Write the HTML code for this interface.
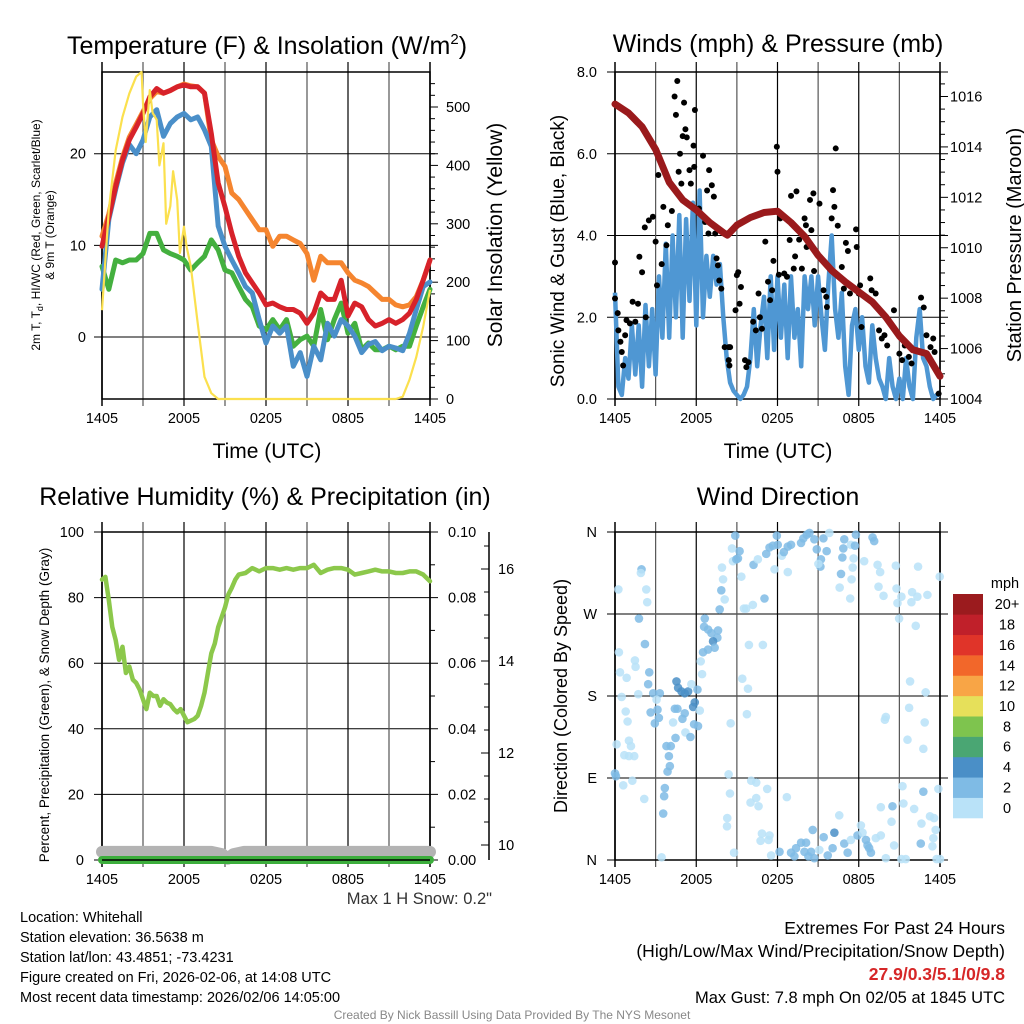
<!DOCTYPE html>
<html><head><meta charset="utf-8"><style>
html,body{margin:0;padding:0;background:#fff;}
svg{display:block;font-family:"Liberation Sans",Arial,sans-serif;}
</style></head><body>
<svg id="chart" width="1024" height="1024" viewBox="0 0 1024 1024" xmlns="http://www.w3.org/2000/svg">
<rect x="0" y="0" width="1024" height="1024" fill="#fff"/>
<g id="p1"></g>
<g id="p2"></g>
<g id="p3"></g>
<g id="p4"></g>
<g font-size="25" text-anchor="middle" fill="#000">
<text x="267" y="54">Temperature (F) &amp; Insolation (W/m<tspan font-size="15" dy="-10">2</tspan><tspan dy="10">)</tspan></text>
<text x="778" y="52">Winds (mph) &amp; Pressure (mb)</text>
<text x="265" y="505">Relative Humidity (%) &amp; Precipitation (in)</text>
<text x="778" y="505">Wind Direction</text>
</g>
<g fill="#000">
<text x="267" y="458" font-size="21" text-anchor="middle">Time (UTC)</text>
<text x="778" y="458" font-size="21" text-anchor="middle">Time (UTC)</text>
<text font-size="12" text-anchor="middle" transform="translate(40,235) rotate(-90)">2m T, T<tspan font-size="9" dy="3">d</tspan><tspan dy="-3">, HI/WC (Red, Green, Scarlet/Blue)</tspan></text>
<text font-size="12" text-anchor="middle" transform="translate(54,235) rotate(-90)">&amp; 9m T (Orange)</text>
<text font-size="21" text-anchor="middle" transform="translate(502,235) rotate(-90)">Solar Insolation (Yellow)</text>
<text font-size="19" text-anchor="middle" transform="translate(564,251) rotate(-90)">Sonic Wind &amp; Gust (Blue, Black)</text>
<text font-size="20" text-anchor="middle" transform="translate(1021,245) rotate(-90)">Station Pressure (Maroon)</text>
<text font-size="13.5" text-anchor="middle" transform="translate(49,705) rotate(-90)">Percent, Precipitation (Green), &amp; Snow Depth (Gray)</text>
<text font-size="18" text-anchor="middle" transform="translate(567,696) rotate(-90)">Direction (Colored By Speed)</text>
</g>
<g font-size="14.5" fill="#000">
<text x="20" y="922">Location: Whitehall</text>
<text x="20" y="942">Station elevation: 36.5638 m</text>
<text x="20" y="962">Station lat/lon: 43.4851; -73.4231</text>
<text x="20" y="982">Figure created on Fri, 2026-02-06, at 14:08 UTC</text>
<text x="20" y="1002">Most recent data timestamp: 2026/02/06 14:05:00</text>
</g>
<g fill="#000" text-anchor="end">
<text x="492" y="904" fill="#333" font-size="16.5">Max 1 H Snow: 0.2"</text>
<text x="1005" y="934" font-size="17.5">Extremes For Past 24 Hours</text>
<text x="1005" y="957" font-size="17.5">(High/Low/Max Wind/Precipitation/Snow Depth)</text>
<text x="1005" y="980" fill="#d62728" font-weight="bold" font-size="17.5">27.9/0.3/5.1/0/9.8</text>
<text x="1005" y="1003" font-size="16.5">Max Gust: 7.8 mph On 02/05 at 1845 UTC</text>
</g>
<text x="512" y="1019" font-size="12" fill="#888" text-anchor="middle">Created By Nick Bassill Using Data Provided By The NYS Mesonet</text>
</svg>
<script>
// ---------- DATA ----------
const xTickLabels = ["1405","2005","0205","0805","1405"];
const halfHours = [0,0.5,1,1.5,2,2.5,3,3.5,4,4.5,5,5.5,6,6.5,7,7.5,8,8.5,9,9.5,10,10.5,11,11.5,12,12.5,13,13.5,14,14.5,15,15.5,16,16.5,17,17.5,18,18.5,19,19.5,20,20.5,21,21.5,22,22.5,23,23.5,24];
const temp2m = [9.9,13.1,16.4,19.3,21.5,22.9,24.4,26.2,27.1,26.6,26.9,27.3,27.5,27.3,27.3,26.6,22.2,16.8,14.2,11.3,8.8,7.0,5.9,4.8,3.5,3.7,3.3,3.0,3.0,2.6,1.5,2.6,4.8,4.1,4.1,6.2,2.3,3.7,3.3,1.9,1.2,1.5,1.9,1.5,1.9,2.6,4.1,6.2,8.4];
const temp9m = [11.0,13.4,16.8,19.6,21.8,23.2,24.6,26.0,26.8,26.6,26.9,27.3,27.6,27.4,27.3,26.6,21.5,19.7,18.6,15.7,15.0,13.9,12.8,11.7,11.7,9.9,11.0,11.0,10.6,10.2,9.1,6.2,8.8,8.1,8.1,8.1,7.0,6.2,5.9,5.5,4.8,4.1,4.1,3.5,3.3,3.5,4.4,6.2,8.4];
const windChill = [5.2,12.8,16.1,19.0,21.0,20.0,21.5,24.0,24.8,21.9,23.3,24.0,24.4,23.7,24.0,22.6,20.8,12.1,9.9,8.4,7.0,5.5,4.8,1.9,-0.65,1.2,0.4,1.2,-3.2,-1.7,-4.3,-1.0,-2.5,1.5,0.1,1.9,1.2,0.1,-1.7,-0.8,-0.5,-1.5,-1.0,-1.2,-1.5,0.4,3.0,5.5,6.0];
const dewpoint = [7.7,5.2,8.4,8.1,8.4,8.4,9.1,11.3,11.3,9.5,9.1,8.8,8.4,7.3,8.1,8.8,10.6,9.5,7.3,7.0,5.5,4.1,3.3,1.2,0.8,1.9,0.8,1.9,-1.0,-0.3,0.1,-1.0,3.0,-0.3,1.9,3.7,0.4,1.5,-1.4,-0.65,-1.4,-1.4,-1.0,-1.4,-1.0,-1.0,1.2,3.3,5.2];
const solarHours = [0,0.5,1,1.5,2,2.5,2.9,3.0,3.2,3.5,3.7,4,4.2,4.5,4.7,5,5.2,5.5,5.7,6,6.2,6.5,7,7.5,8,8.5,21.5,22,22.5,23,23.5,24];
const solar = [152,324,426,483,523,552,560,506,440,529,490,478,400,438,300,330,390,341,250,295,260,227,130,38,10,0,0,4,33,72,124,187];
const quarterHours = [0,0.25,0.5,0.75,1,1.25,1.5,1.75,2,2.25,2.5,2.75,3,3.25,3.5,3.75,4,4.25,4.5,4.75,5,5.25,5.5,5.75,6,6.25,6.5,6.75,7,7.25,7.5,7.75,8,8.25,8.5,8.75,9,9.25,9.5,9.75,10,10.25,10.5,10.75,11,11.25,11.5,11.75,12,12.25,12.5,12.75,13,13.25,13.5,13.75,14,14.25,14.5,14.75,15,15.25,15.5,15.75,16,16.25,16.5,16.75,17,17.25,17.5,17.75,18,18.25,18.5,18.75,19,19.25,19.5,19.75,20,20.25,20.5,20.75,21,21.25,21.5,21.75,22,22.25,22.5,22.75,23,23.25,23.5,23.75,24];
const windSpeed = [2.6,0.3,0.1,1.0,0.5,1.8,0.6,1.8,0.3,2.3,0.8,2.2,0.6,3.0,1.5,3.8,1.5,4.0,2.0,4.5,1.5,4.4,2.4,4.8,1.8,5.1,2.0,3.5,2.5,3.5,2.8,3.3,2.0,1.0,0.4,0.2,0.1,0.0,0.1,0.3,1.0,2.2,0.8,1.8,2.5,1.0,3.0,1.2,3.0,1.5,2.8,1.0,3.0,1.5,2.2,0.8,3.0,2.2,3.0,1.8,3.0,2.0,1.2,2.8,4.0,2.2,1.5,2.6,0.8,0.1,1.8,2.2,1.2,2.0,0.8,0.4,1.8,1.0,0.5,0.3,0.0,1.0,0.3,0.0,0.5,0.0,1.0,0.3,0.0,1.5,2.2,1.0,0.8,0.3,0.0,0.1,0.1];
const pressureHours = [0,1,2,3,4,5,6,7,8,8.3,9,10,11,12,13,14,15,16,17,18,19,20,21,22,23,24];
const pressure = [1015.7,1015.35,1014.8,1013.9,1012.6,1011.9,1011.5,1011.0,1010.6,1010.5,1010.9,1011.2,1011.4,1011.45,1011.0,1010.45,1009.7,1009.1,1008.65,1008.25,1007.85,1007.25,1006.5,1005.95,1005.8,1004.9];
const gustHours = [0,0,0.2,0.25,0.4,0.5,0.6,0.75,0.85,1.1,1.3,1.5,1.7,1.8,2,2.2,2.27,2.5,2.8,3,3.1,3.2,3.45,3.57,3.8,3.9,4.2,4.4,4.5,4.6,4.7,4.9,5,5.1,5.2,5.3,4.8,5.5,5.6,5.8,5.9,5.85,6.2,6.5,6.65,6.8,6.9,6.95,7.15,7.3,7.4,7.5,7.6,7.7,7.85,8.1,8.4,8.5,8.4,8.45,8.9,9,9.1,9.2,9.3,9.6,9.7,9.85,10.2,10.4,10.6,10.7,10.85,11.1,11.3,11.45,11.6,11.7,11.95,12,12.1,12.2,12.5,12.7,12.9,13,13.2,13.3,13.4,13.6,13.8,14,14.1,14.15,14.4,14.65,14.5,14.7,15.1,15.4,15.6,15.65,16,16.1,16.2,16.3,16.45,16.75,16.9,17.05,17.2,17.35,17.8,17.85,18,18.1,18.2,18.85,18.95,19.25,19.5,19.7,19.9,20.1,20.6,21,21.2,21.4,21.7,21.9,22.3,22.6,22.8,23,23.3,23.5,23.6,23.9];
const gustSpeed = [3.34,2.46,2.1,1.68,1.4,1.15,0.82,1.56,1.93,1.85,2.38,1.89,2.33,3.48,3.1,4.2,2.0,4.37,4.46,3.85,2.78,5.48,3.3,4.7,3.76,4.25,4.6,7.4,6.95,7.78,5.56,5.27,6.43,7.25,6.6,6.4,6.0,5.6,5.27,6.2,7.07,5.68,4.66,5.95,4.33,5.1,4.05,5.6,5.23,4.95,4.05,3.44,3.27,2.9,2.7,1.27,1.27,1.27,0.95,0.82,2.17,3.03,3.1,2.33,2.74,0.95,0.78,0.9,1.89,1.68,2.58,2.0,1.72,3.85,2.87,2.42,2.66,3.38,6.17,5.56,3.04,4.42,3.07,2.99,3.89,4.97,3.19,3.49,5.08,3.9,3.19,4.42,4.25,3.72,4.87,5.03,4.13,3.13,4.78,2.66,2.5,2.25,4.42,5.11,4.7,6.13,4.24,3.23,2.7,3.82,3.62,2.58,4.15,3.72,2.58,2.78,1.76,2.95,2.66,2.58,1.68,1.48,1.56,1.31,2.17,1.11,0.95,1.31,1.03,0.87,1.19,2.48,2.24,1.56,1.27,1.48,1.15,0.13];
const rhHours = [0,0.25,0.5,0.75,1,1.25,1.5,1.75,2,2.25,2.5,2.75,3,3.25,3.5,3.75,4,4.25,4.5,4.75,5,5.25,5.5,5.75,6,6.25,6.5,6.75,7,7.25,7.5,7.75,8,8.25,8.5,8.75,9,9.25,9.5,9.75,10,10.5,11,11.5,12,12.5,13,13.5,14,14.5,15,15.5,16,16.5,17,17.5,18,18.5,19,19.5,20,20.5,21,21.5,22,22.5,23,23.5,24];
const rh = [85.5,86.3,79.3,71,67,61,65,57,59,55,54,52,49,46,51,50,50,47,49,48,47.5,46,45,46,44,42,42.5,43,44,47,51,57,63,66,71,74,77,81,83,85.5,87,87.5,89,88,89,89,88.5,89,88.5,89,89,90,87.5,88.5,89,89,88.5,87,87.5,88,88.5,88,88,87.5,87.5,88,88,87,85];
const precipHours = [0,24];
const precip = [0,0];
const snowHours = [0,4,8,8.8,9.2,9.6,10.4,24];
const snowDepth = [9.85,9.85,9.85,9.8,9.7,9.8,9.85,9.85];
const dirHours = [0.25,1.96,1.91,2.31,2.38,1.77,2.21,0.29,1.47,1.52,0.37,0.86,2.53,2.45,1.72,0.49,2.82,3.31,3.07,0.79,2.63,3.14,0.93,2.94,3.24,1.03,1.18,0.12,0.69,1.03,1.42,0.0,0.07,0.61,1.28,2.16,3.44,
4.29,4.54,4.66,4.91,5.15,5.4,5.64,5.89,5.77,6.09,6.26,4.42,4.61,5.15,4.98,5.84,6.13,5.2,5.57,4.47,3.8,4.12,3.98,4.05,3.88,3.68,3.63,3.56,
6.33,6.43,6.5,6.63,6.58,6.87,7.12,7.61,7.56,7.24,7.36,6.87,7.73,7.85,8.1,7.98,7.9,8.71,8.96,9.08,9.2,8.64,8.88,
9.33,9.52,9.69,10.18,10.23,10.55,11.04,11.17,11.41,11.66,11.78,11.95,12.02,12.32,12.47,12.76,13.0,12.76,13.74,13.91,14.16,14.36,14.72,14.9,15.21,15.17,15.02,15.39,15.63,15.83,16.93,16.86,16.79,16.69,17.42,17.72,17.79,17.62,17.55,17.47,17.37,16.59,18.4,19.02,19.14,19.39,19.58,19.46,19.83,20.74,20.79,21.15,20.86,20.98,21.94,21.89,22.33,23.07,22.38,23.98,22.21,
21.79,22.94,21.72,20.0,19.93,22.87,21.6,22.77,
9.89,10.92,9.4,9.82,9.74,8.54,8.39,8.49,8.29,8.27,8.79,10.06,10.43,11.24,10.43,10.01,10.6,12.69,10.85,10.75,11.41,11.34,11.53,
12.15,13.0,13.37,13.74,14.11,13.25,13.99,14.48,14.72,14.28,14.6,15.09,15.41,15.71,16.07,16.2,16.56,16.93,17.18,17.42,17.91,18.16,18.28,18.53,18.65,18.77,18.9,19.26,19.63,19.63,20.0,20.49,20.42,20.61,21.15,21.3,21.47,21.23,22.09,22.77,22.63,22.58,23.44,23.26,23.56,23.68,23.51,23.88,23.75,24.0];
const dirDegrees = [297,319,315,297,283,265,237,228,219,212,206,200,206,193,182,179,183,183,176,163,162,165,152,150,156,131,125,127,115,114,114,95,92,82,87,67,3,
151,196,189,185,183,185,193,173,168,187,164,166,166,161,155,149,147,140,135,134,125,125,114,103,97,79,70,51,
218,204,228,265,256,253,249,252,244,240,233,231,275,296,286,308,321,328,330,331,339,342,356,
311,276,276,280,324,330,287,336,343,345,319,356,346,334,338,344,346,316,348,353,357,359,352,341,330,322,325,353,339,359,352,342,332,314,346,345,357,331,321,308,287,299,328,354,350,324,316,300,290,323,298,289,282,265,294,283,289,291,322,311,257,
196,184,167,157,154,151,132,122,
236,236,199,188,160,150,94,73,46,37,8,87,85,78,68,63,59,69,29,21,27,22,5,
9,8,13,19,19,4,9,9,2,4,33,11,25,5,13,30,49,18,8,22,27,38,30,22,16,13,8,24,27,58,2,59,42,16,1,62,1,81,56,75,40,18,15,48,46,33,24,78,1,1];
const dirSpeed = [1,3,1,1,1,3,3,1,1,1,1,1,3,3,1,1,3,3,1,1,3,3,1,3,3,1,1,1,1,1,1,3,3,1,1,1,1,
1,5,5,5,5,5,1,5,5,3,1,3,3,3,3,3,3,1,3,3,3,3,3,3,3,3,3,3,
1,1,3,3,3,3,3,3,3,5,3,3,3,3,1,1,1,1,3,3,3,1,3,
1,1,1,1,3,1,3,3,3,3,1,3,3,1,3,3,3,1,3,3,3,3,3,3,3,3,1,3,3,1,3,3,3,3,1,3,3,1,1,1,1,1,1,3,3,1,1,1,1,1,1,1,1,1,1,1,1,1,1,1,1,
1,1,1,1,1,1,1,1,
1,1,1,1,1,1,1,1,1,1,1,1,1,1,1,1,1,1,1,1,1,1,1,
3,3,3,3,3,3,3,3,3,3,3,1,3,3,3,5,1,3,3,1,3,1,1,3,3,3,3,1,1,1,1,3,1,1,1,1,1,1,1,3,1,3,1,1,1,1,1,1,1,1];
const speedBins = ["0","2","4","6","8","10","12","14","16","18","20+"];
const speedColors = ["#b9e2f8","#7fbbe5","#4a8fc7","#4aa673","#7ec44e","#e6e05a","#f8a546","#f2672a","#e03429","#c0202a","#9b1b1e"];

// ---------- HELPERS ----------
const NS = "http://www.w3.org/2000/svg";
function mk(parent, tag, attrs){ const e=document.createElementNS(NS,tag); for(const k in attrs) e.setAttribute(k,attrs[k]); parent.appendChild(e); return e; }
function linScale(d0,d1,r0,r1){ return v => r0 + (v-d0)*(r1-r0)/(d1-d0); }
function txt(parent, x, y, s, size, anchor, name){
  const t = mk(parent,'text',{x:x,y:y,'font-size':size,'text-anchor':anchor,fill:'#000'});
  t.textContent = s;
  
  
  return t;
}
function pathFrom(xs, ys, xf, yf){ return xs.map((h,i)=>(i?'L':'M')+xf(h).toFixed(1)+','+yf(ys[i]).toFixed(1)).join(''); }

function frame(g, L, R, T, B, name){
  const xs = linScale(0,24,L,R);
  for(let h=3; h<24; h+=3){
    const l = mk(g,'line',{x1:xs(h),x2:xs(h),y1:T-10,y2:B+7,stroke:(h%6===0)?'#000':'#555','stroke-width':1.2});
    
    
  }
  const r = mk(g,'rect',{x:L,y:T,width:R-L,height:B-T,fill:'none',stroke:'#000','stroke-width':1.5});
  
  
  mk(g,'line',{x1:L,x2:L,y1:T-10,y2:B+7,stroke:'#000','stroke-width':1.5});
  mk(g,'line',{x1:R,x2:R,y1:T-10,y2:B+7,stroke:'#000','stroke-width':1.5});
  xTickLabels.forEach((s,i)=>{ txt(g, xs(i*6), B+24, s, 14.5, 'middle', name+'-x-tick-label'); });
  return xs;
}
function hgrid(g, L, R, y, name){
  const l = mk(g,'line',{x1:L-8,x2:R+8,y1:y,y2:y,stroke:'#000','stroke-width':1});
  
  
}
function minorTicks(g, x, yvals, dir){
  yvals.forEach(y=>mk(g,'line',{x1:x,x2:x+dir*5,y1:y,y2:y,stroke:'#000','stroke-width':1}));
}

// ---------- PANEL 1 ----------
(function(){
  const g = document.getElementById('p1');
  const L=102,R=430,T=72,B=399;
  const yT = linScale(0,20,337,153.7);
  const yS = linScale(0,500,399,107);
  [0,10,20].forEach(v=>{ hgrid(g,L,R,yT(v),'temp-grid-line'); txt(g,L-16,yT(v)+5,String(v),14.5,'end','temp-y-tick-label'); });
  const xs = frame(g,L,R,T,B,'temp');
  [0,100,200,300,400,500].forEach(v=>{ mk(g,'line',{x1:R,x2:R+8,y1:yS(v),y2:yS(v),stroke:'#000'}); txt(g,R+16,yS(v)+5,String(v),14.5,'start','solar-y-tick-label'); });
  const mins=[]; for(let v=20; v<560; v+=20) if(v%100) mins.push(yS(v)); minorTicks(g,R,mins,1);
  const series = [
    [temp9m,'#f5852f','nine-meter-temp-line'],
    [dewpoint,'#44b03f','dewpoint-line'],
    [windChill,'#4a8fc9','wind-chill-line'],
    [temp2m,'#d7222a','two-meter-temp-line']
  ];
  series.forEach(s=>{
    const p = mk(g,'path',{d:pathFrom(halfHours,s[0],xs,yT),fill:'none',stroke:s[1],'stroke-width':5,'stroke-linejoin':'round','stroke-linecap':'round'});
    
    
  });
  const sp = mk(g,'path',{d:pathFrom(solarHours,solar,xs,yS),fill:'none',stroke:'#fbe04e','stroke-width':2.2,'stroke-linejoin':'round'});
  
  
})();

// ---------- PANEL 2 ----------
(function(){
  const g = document.getElementById('p2');
  const L=615,R=940,T=72,B=399;
  const yW = linScale(0,8,399,72);
  const yP = linScale(1004,1016,399,96.5);
  [0,2,4,6,8].forEach(v=>{ hgrid(g,L,R,yW(v),'wind-grid-line'); txt(g,L-18,yW(v)+5,v.toFixed(1),14.5,'end','wind-y-tick-label'); });
  const xs = frame(g,L,R,T,B,'wind');
  [1004,1006,1008,1010,1012,1014,1016].forEach(v=>{ mk(g,'line',{x1:R,x2:R+8,y1:yP(v),y2:yP(v),stroke:'#000'}); txt(g,R+10,yP(v)+5,String(v),14.5,'start','pressure-y-tick-label'); });
  const mins=[]; for(let v=1004.5; v<1017; v+=0.5) if(v%2) mins.push(yP(v)); minorTicks(g,R,mins,1);
  const wp = mk(g,'path',{d:pathFrom(quarterHours,windSpeed,xs,yW),fill:'none',stroke:'#4f97d3','stroke-width':4.5,'stroke-linejoin':'round'});
  
  
  gustHours.forEach((h,i)=>{
    const c = mk(g,'circle',{cx:xs(h),cy:yW(gustSpeed[i]),r:3,fill:'#000'});
    
    
  });
  const pp = mk(g,'path',{d:pathFrom(pressureHours,pressure,xs,yP),fill:'none',stroke:'#9a1a1c','stroke-width':7,'stroke-linejoin':'round','stroke-linecap':'round'});
  
  
})();

// ---------- PANEL 3 ----------
(function(){
  const g = document.getElementById('p3');
  const L=102,R=430,T=532,B=860;
  const yH = linScale(0,100,860,532);
  const yPr = linScale(0,0.1,860,532);
  const ySn = linScale(10,16,845,569);
  [0,20,40,60,80,100].forEach(v=>{ hgrid(g,L,R,yH(v),'humidity-grid-line'); txt(g,L-18,yH(v)+5,String(v),14.5,'end','humidity-y-tick-label'); });
  const xs = frame(g,L,R,T,B,'humidity');
  [0,0.02,0.04,0.06,0.08,0.1].forEach(v=>{ txt(g,R+18,yPr(v)+5,v.toFixed(2),14.5,'start','precip-y-tick-label'); });
  const mins=[]; for(let v=10; v<100; v+=10) if(v%20) mins.push(yH(v)); minorTicks(g,R,mins,1);
  const ax = mk(g,'line',{x1:489,x2:489,y1:532,y2:860,stroke:'#000','stroke-width':1.5});
  
  
  [10,12,14,16].forEach(v=>{ mk(g,'line',{x1:481,x2:489,y1:ySn(v),y2:ySn(v),stroke:'#000'}); txt(g,498,ySn(v)+5,String(v),14.5,'start','snow-y-tick-label'); });
  const sm=[]; for(let v=9.5; v<17; v+=0.5) if(v%2 && ySn(v)>=532 && ySn(v)<=860) sm.push(ySn(v)); minorTicks(g,489,sm,-1);
  const sp = mk(g,'path',{d:pathFrom(snowHours,snowDepth,xs,ySn),fill:'none',stroke:'#b3b3b3','stroke-width':12,'stroke-linecap':'round','stroke-linejoin':'round'});
  
  
  const pr = mk(g,'path',{d:pathFrom(precipHours,precip,xs,yPr),fill:'none',stroke:'#3cae3c','stroke-width':8,'stroke-linecap':'round'});
  
  
  mk(g,'line',{x1:L,x2:R,y1:B,y2:B,stroke:'#000','stroke-width':1.5});
  const rp = mk(g,'path',{d:pathFrom(rhHours,rh,xs,yH),fill:'none',stroke:'#8cc84b','stroke-width':4.5,'stroke-linejoin':'round','stroke-linecap':'round'});
  
  
})();

// ---------- PANEL 4 ----------
(function(){
  const g = document.getElementById('p4');
  const L=615,R=940,T=532,B=860;
  const yD = linScale(0,360,860,532);
  const dirLabels = ["N","E","S","W","N"];
  dirLabels.forEach((s,i)=>{ hgrid(g,L,R,yD(i*90),'direction-grid-line'); txt(g,L-18,yD(i*90)+5,s,14.5,'end','direction-y-tick-label'); });
  const xs = frame(g,L,R,T,B,'direction');
  dirHours.forEach((h,i)=>{
    const bin = Math.min(10, Math.floor(dirSpeed[i]/2));
    const c = mk(g,'circle',{cx:xs(h),cy:yD(dirDegrees[i]),r:4.3,fill:speedColors[bin],'fill-opacity':0.85});
    
    
  });
  // colorbar
  const cb = mk(g,'g',{});
  
  
  const n = speedBins.length, top=594, bot=818, bh=(bot-top)/n;
  txt(cb,1005,588,'mph',14.5,'middle','colorbar-unit-label');
  speedBins.forEach((s,i)=>{
    const k = n-1-i;
    const y = top + k*bh;
    const r = mk(cb,'rect',{x:953,y:y,width:30,height:bh+0.3,fill:speedColors[i]});
    
    
    txt(cb,1007,y+bh/2+5,s,14.5,'middle','colorbar-label');
  });
})();
</script>
</body></html>
